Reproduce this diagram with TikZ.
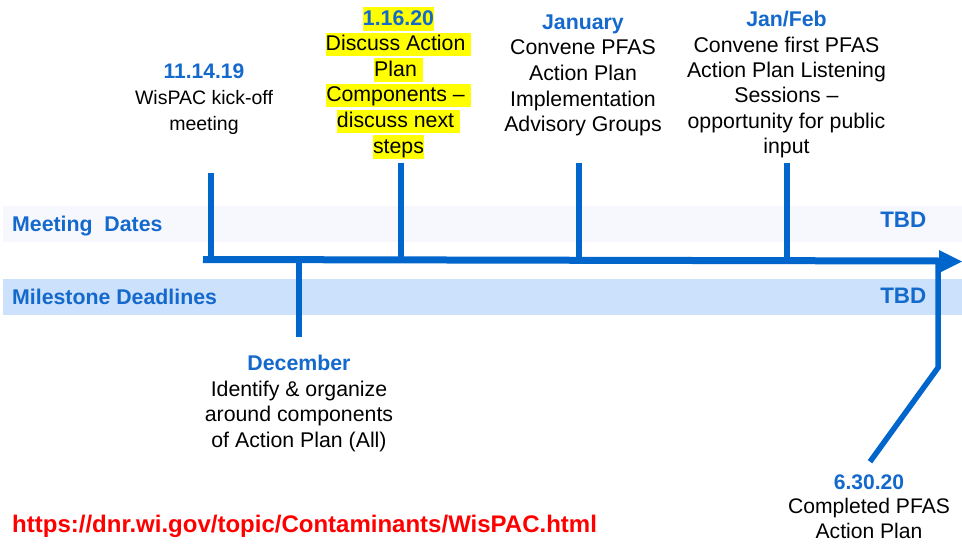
\documentclass[tikz,border=0pt]{standalone}
\usepackage{fontspec}
\setmainfont{Liberation Sans}
\definecolor{lineblue}{HTML}{0066CC}
\definecolor{lblblue}{HTML}{1469CC}
\definecolor{meetband}{HTML}{F7F7FE}
\definecolor{mileband}{HTML}{CCE1FB}
\definecolor{urlred}{HTML}{FF0000}
\definecolor{hlyellow}{HTML}{FFFF00}
% bold blue date heading inside a label block
\newcommand\datehead[1]{\textcolor{lblblue}{\bfseries #1}}
% yellow highlight behind one line of text
\newcommand\hlline[1]{{\setlength\fboxsep{0pt}\colorbox{hlyellow}{\rule[-5.5pt]{0pt}{23.4pt}#1}}}
\begin{document}
\begin{tikzpicture}[x=1pt,y=-1pt,
  lbl/.style={anchor=base, inner sep=0pt, font=\fontsize{21.3}{25.6}\selectfont},
  bandlbl/.style={anchor=base west, inner sep=0pt, text=lblblue,
    font=\fontsize{21.3}{25.6}\selectfont\bfseries},
  tbd/.style={anchor=base east, inner sep=0pt, text=lblblue,
    font=\fontsize{22.4}{26}\selectfont\bfseries},
  tick/.style={draw=lineblue, line width=5.7pt},
  axis/.style={draw=lineblue, line width=7pt}]
\useasboundingbox (0,0) rectangle (962,544);
\fill[white] (0,0) rectangle (962,544);

% the two bands
\fill[meetband] (3,206) rectangle (962,241.7);
\fill[mileband] (3,279) rectangle (962,315);
\node[bandlbl] (meet) at (12,231.6) {Meeting\ \ Dates};
\node[bandlbl] (mile) at (12,304.6) {Milestone Deadlines};
\node[tbd] (tbdA) at (926.5,227.3) {TBD};
\node[tbd] (tbdB) at (926.5,303.3) {TBD};

% points on the time axis
\coordinate (axL) at (203,259.5);
\coordinate (axR) at (940,261);
\coordinate (a1) at (211,259.5);
\coordinate (a2) at (298.7,259.7);
\coordinate (a3) at (400.7,259.9);
\coordinate (a4) at (579,260.3);
\coordinate (a5) at (786.7,260.7);
\coordinate (a6) at (938,258);
% free ends of the ticks
\coordinate (k1) at (211,172.7);
\coordinate (k2) at (298.7,337.3);
\coordinate (k3) at (400.7,163.3);
\coordinate (k4) at (579,162.7);
\coordinate (k5) at (786.7,162.7);
\coordinate (k6) at (938,367.7);
\coordinate (k6end) at (870,461.7);

% ticks
\draw[tick] (k1) -- (a1);
\draw[tick] (k3) -- (a3);
\draw[tick] (k4) -- (a4);
\draw[tick] (k5) -- (a5);
\draw[tick] (a2) -- (k2);
\draw[tick, line width=5.5pt] (a6) -- (k6) -- (k6end);

% time axis with its arrow head
\draw[axis] (axL) -- (axR);
\fill[lineblue] (939,250) -- (962,261.5) -- (939,273) -- cycle;

% labels
\node[lbl, font=\fontsize{19.5}{26}\selectfont] (kickoff) at (204,78.3)
  {\begin{tabular}[t]{@{}c@{}}{\fontsize{21}{26}\selectfont\datehead{11.14.19}}\\WisPAC kick-off\\meeting\end{tabular}};
\node[lbl] (discuss) at (398.5,25)
  {\begin{tabular}[t]{@{}c@{}}\hlline{\datehead{1.16.20}}\\\hlline{Discuss Action\ }\\\hlline{Plan\ }\\\hlline{Components --\ }\\\hlline{discuss next\ }\\\hlline{steps}\end{tabular}};
\node[lbl, font=\fontsize{21.3}{25.7}\selectfont] (january) at (583,29)
  {\begin{tabular}[t]{@{}c@{}}\datehead{January}\\Convene PFAS\\Action Plan\\Implementation\\Advisory Groups\end{tabular}};
\node[lbl, font=\fontsize{21.3}{25.4}\selectfont] (janfeb) at (786.5,26.7)
  {\begin{tabular}[t]{@{}c@{}}\datehead{Jan/Feb}\\Convene first PFAS\\Action Plan Listening\\Sessions --\\opportunity for public\\input\end{tabular}};
\node[lbl, font=\fontsize{21.3}{25.5}\selectfont] (december) at (299,370.7)
  {\begin{tabular}[t]{@{}c@{}}\datehead{December}\\Identify \& organize\\around components\\of Action Plan (All)\end{tabular}};
\node[lbl, font=\fontsize{21.1}{24.5}\selectfont] (final) at (869,489.3)
  {\begin{tabular}[t]{@{}c@{}}\datehead{6.30.20}\\Completed PFAS\\Action Plan\end{tabular}};

\node[anchor=base west, inner sep=0pt, text=urlred,
  font=\fontsize{24}{28}\selectfont\bfseries] (url) at (12,532)
  {https://dnr.wi.gov/topic/Contaminants/WisPAC.html};
\end{tikzpicture}
\end{document}
